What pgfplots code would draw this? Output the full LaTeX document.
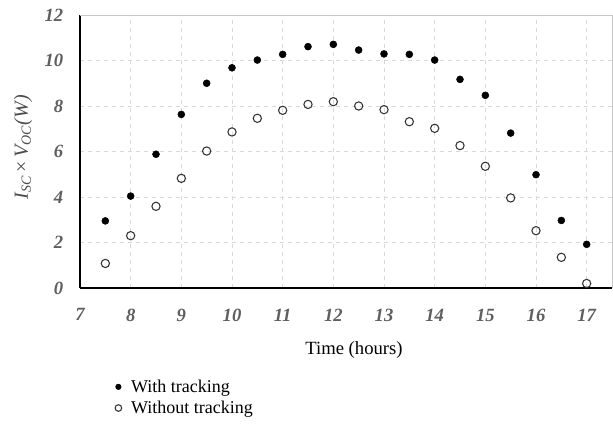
\documentclass[border=0pt]{standalone}
\usepackage{pgfplots}
\pgfplotsset{compat=1.18}
\usepackage{fontspec}
\setmainfont{Liberation Serif}
\definecolor{ticklab}{HTML}{5F5F5F}
\definecolor{gridc}{HTML}{D9D9D9}
\begin{document}
\begin{tikzpicture}
\begin{axis}[
  scale only axis,
  width=399pt, height=204.75pt,
  xmin=7, xmax=17.5, ymin=0, ymax=12,
  xtick={7,8,...,17}, ytick={0,2,...,12},
  axis x line*=bottom, axis y line*=left,
  axis line style={black, line width=0.9pt, -},
  major tick length=0pt,
  grid=major,
  major grid style={gridc, dashed, line width=0.6pt},
  /pgf/number format/assume math mode=true,
  tick label style={font=\fontsize{14}{16}\selectfont\bfseries\itshape, text=ticklab},
  xticklabel style={yshift=-12pt},
  yticklabel style={xshift=-9pt},
  xlabel={Time (hours)},
  x label style={at={(axis description cs:0.515,-0.227)}, anchor=center, font=\fontsize{14}{16}\selectfont},
  ylabel={{\itshape I}\textsubscript{\itshape SC}\,×\,{\itshape V}\textsubscript{\itshape OC}{\itshape (W)}},
  y label style={at={(axis description cs:-0.107,0.516)}, anchor=center, font=\fontsize{15}{17}\selectfont, text=ticklab!80!black},
  legend style={at={(axis description cs:0.058,-0.315)}, anchor=north west, draw=none, fill=none,
     font=\fontsize{13.5}{16}\selectfont, row sep=1pt, legend cell align=left,
     /tikz/every odd column/.append style={column sep=5pt}},
  legend image post style={scale=0.8},
  clip=false,
]
\addplot[only marks, mark=*, mark size=2.6pt, mark options={fill=black, draw=black}] coordinates {
(7.5,2.95) (8,4.04) (8.5,5.88) (9,7.63) (9.5,9.0) (10,9.68) (10.5,10.02) (11,10.27) (11.5,10.61)
(12,10.71) (12.5,10.46) (13,10.29) (13.5,10.27) (14,10.02) (14.5,9.17) (15,8.47) (15.5,6.81)
(16,4.98) (16.5,2.97) (17,1.92)};
\addlegendentry{With tracking}
\addplot[only marks, mark=o, mark size=3.1pt, mark options={draw=black!80, line width=0.8pt, fill=white}] coordinates {
(7.5,1.08) (8,2.30) (8.5,3.59) (9,4.82) (9.5,6.02) (10,6.86) (10.5,7.46) (11,7.81) (11.5,8.07)
(12,8.19) (12.5,8.0) (13,7.84) (13.5,7.31) (14,7.02) (14.5,6.26) (15,5.35) (15.5,3.96)
(16,2.52) (16.5,1.35) (17,0.2)};
\addlegendentry{Without tracking}
\draw[gridc!80!gray, line width=0.7pt] (rel axis cs:0,1) -- (rel axis cs:1,1) -- (rel axis cs:1,0);
\end{axis}
\pgfresetboundingbox
\path[use as bounding box] (-60pt,-106.5pt) rectangle (399.75pt,216pt);
\end{tikzpicture}
\end{document}
